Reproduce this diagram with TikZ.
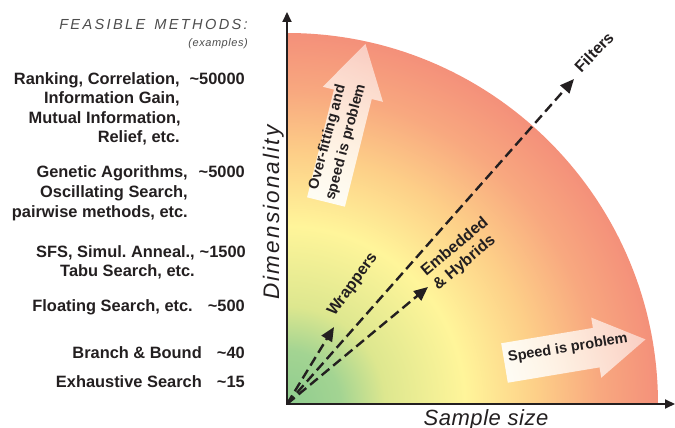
\documentclass[tikz,border=0pt]{standalone}
\usepackage{fontspec}
\setmainfont{Liberation Sans}
\newfontfamily\feasfont[LetterSpace=16]{Liberation Sans}
\newfontfamily\exfont[LetterSpace=5]{Liberation Sans}
\newfontfamily\dimfont[LetterSpace=9.5]{Liberation Sans}
\newfontfamily\samfont[LetterSpace=2.5]{Liberation Sans}
\usetikzlibrary{arrows.meta,fadings}
\definecolor{ink}{HTML}{231F20}
\definecolor{gtext}{HTML}{4D4D4D}
\definecolor{cga}{HTML}{8FCC8F}
\definecolor{cgm}{HTML}{A3D492}
\definecolor{cgb}{HTML}{DDE78F}
\definecolor{cya}{HTML}{FFF59A}
\definecolor{coa}{HTML}{FDCF88}
\definecolor{csa}{HTML}{F8A87F}
\definecolor{csb}{HTML}{F4907A}
\pgfdeclareradialshading{quadshade}{\pgfpoint{0bp}{0bp}}{color(0bp)=(cga); color(3.6bp)=(cgm); color(6.6bp)=(cgb); color(12bp)=(cya); color(16.8bp)=(coa); color(21.1bp)=(csa); color(25bp)=(csb); color(50bp)=(csb)}
\tikzfading[name=arrfade, left color=transparent!10, right color=transparent!45]
\newcommand\tld{\char"7E\relax}
\frenchspacing
\begin{document}
\begin{tikzpicture}[x=1pt,y=1pt,
  lefttext/.style={font=\bfseries\fontsize{16.4}{19}\selectfont, text=ink, inner sep=0pt, anchor=base east},
  labeltext/.style={font=\bfseries\fontsize{16}{18.5}\selectfont, text=ink, inner sep=0pt},
  arrtext/.style={font=\bfseries\fontsize{14.5}{19}\selectfont, text=ink, inner sep=0pt, align=center},
  axisline/.style={ink, line width=2pt},
  dasharrow/.style={ink, line width=2.4pt, dash pattern=on 10pt off 5pt, -{Triangle[length=14pt,width=12pt]}},
  blockarrow/.style={white, path fading=arrfade}
]
\useasboundingbox (0,0) rectangle (675,428);
\coordinate (O) at (287,24);
\coordinate (ytip) at (287,416);
\coordinate (xtip) at (675,24);
\coordinate (tf) at (574,349);
\coordinate (te) at (428,141);
\coordinate (tw) at (334,101);
% shaded quarter disc
\begin{scope}
  \clip (O) -- ++(371,0) arc[start angle=0,end angle=90,radius=371pt] -- cycle;
  \shade[shading=quadshade] (O) circle[radius=371pt];
\end{scope}
% block arrows
\begin{scope}[shift={(326,226)}, rotate=76]
  \fill[blockarrow, fading angle=76] (0,-19.5) -- (111,-19.5) -- (111,-31) -- (163,0) -- (111,31) -- (111,19.5) -- (0,19.5) -- cycle;
  \node[arrtext, rotate=75] (tover) at (63,4.5) {Over-fitting and\\speed is problem};
\end{scope}
\begin{scope}[shift={(504.5,65)}, rotate=9.5]
  \fill[blockarrow, fading angle=9.5] (0,-20) -- (93,-20) -- (93,-30.5) -- (143,0) -- (93,30.5) -- (93,20) -- (0,20) -- cycle;
  \node[arrtext, rotate=9.5] (tspeed) at (65,4) {Speed is problem};
\end{scope}
% dashed arrows
\draw[dasharrow] (O) -- (tf);
\draw[dasharrow] (O) -- (te);
\draw[dasharrow] (O) -- (tw);
% axes
\draw[axisline, {Triangle[length=10pt,width=9pt]}-{Triangle[length=10pt,width=9pt]}] (ytip) -- (O) -- (xtip);
% arrow labels
\node[labeltext, rotate=46] (lf) at (594,376) {Filters};
\node[labeltext, rotate=54] (lw) at (353,143) {Wrappers};
\node[labeltext, rotate=40, align=left] (le) at (461,174) {Embedded\\\& Hybrids};
% axis labels
\node[font=\dimfont\itshape\fontsize{22.5}{24}\selectfont, text=ink, inner sep=0pt, anchor=base, rotate=90] (ylab) at (279,215.5) {Dimensionality};
\node[font=\samfont\itshape\fontsize{22}{24}\selectfont, text=ink, inner sep=0pt, anchor=base] (xlab) at (486,2) {Sample size};
% left column
\node[font=\feasfont\itshape\fontsize{14.6}{16}\selectfont, text=gtext, inner sep=0pt, anchor=base east] (feas) at (248,398.7) {FEASIBLE\hspace{9pt}METHODS:};
\node[font=\exfont\itshape\fontsize{11}{13}\selectfont, text=gtext, inner sep=0pt, anchor=base east] (exa) at (248,381.3) {(examples)};
\node[lefttext] (a1) at (180,343.5) {Ranking, Correlation,};
\node[lefttext] (a2) at (180,324.2) {Information Gain,};
\node[lefttext] (a3) at (181,304.9) {Mutual Information,};
\node[lefttext] (a4) at (180,285.6) {Relief, etc.};
\node[lefttext] (b1) at (188,250.3) {Genetic Agorithms,};
\node[lefttext] (b2) at (188,230.3) {Oscillating Search,};
\node[lefttext] (b3) at (188,210.3) {pairwise methods, etc.};
\node[lefttext] (c1) at (195,170.7) {SFS, Simul. Anneal.,};
\node[lefttext] (c2) at (195,151.5) {Tabu Search, etc.};
\node[lefttext] (d1) at (193,116.3) {Floating Search, etc.};
\node[lefttext] (e1) at (202,69) {Branch \& Bound};
\node[lefttext] (f1) at (202,40) {Exhaustive Search};
\node[lefttext] (na) at (245,343.5) {\tld 50000};
\node[lefttext] (nb) at (245,250.3) {\tld 5000};
\node[lefttext] (nc) at (246,170.7) {\tld 1500};
\node[lefttext] (nd) at (245,116.3) {\tld 500};
\node[lefttext] (ne) at (245,69) {\tld 40};
\node[lefttext] (nf) at (245,40) {\tld 15};
\end{tikzpicture}
\end{document}
